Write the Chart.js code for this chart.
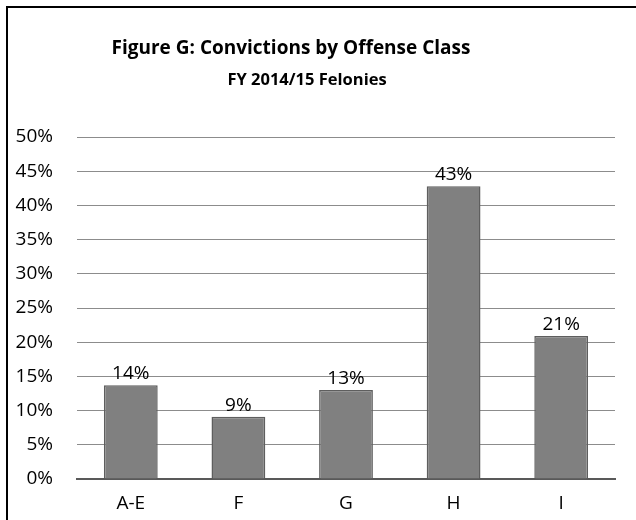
<!DOCTYPE html>
<html>
<head>
<meta charset="utf-8">
<script src="https://cdn.jsdelivr.net/npm/chart.js@4/dist/chart.umd.min.js"></script>
<style>
  html, body { margin: 0; padding: 0; background: #fff; }
  #wrap { position: relative; width: 636px; height: 520px; overflow: hidden; }
  #frame { position: absolute; left: 6px; top: 6px; right: -10px; bottom: -10px;
           border-top: 2px solid #000; border-left: 2px solid #000; }
  canvas { position: absolute; left: 0; top: 0; }
</style>
</head>
<body>
<div id="wrap">
  <div id="frame"></div>
  <canvas id="chart" width="636" height="520"></canvas>
</div>
<script>
var categories = ["A-E", "F", "G", "H", "I"];
var shares = [13.7, 9.1, 13.0, 42.8, 20.9];
var shareLabels = ["14%", "9%", "13%", "43%", "21%"];
var yTicks = [0, 5, 10, 15, 20, 25, 30, 35, 40, 45, 50];
var titleText = "Figure G: Convictions by Offense Class";
var subtitleText = "FY 2014/15 Felonies";

var fontFamily = "'Open Sans', Lato, sans-serif";

// value labels above each bar
var barLabels = {
    id: 'barLabels',
    afterDatasetsDraw: function (chart) {
        var ctx = chart.ctx;
        var meta = chart.getDatasetMeta(0);
        ctx.save();
        ctx.font = "19px " + fontFamily;
        ctx.fillStyle = "#000";
        ctx.textAlign = "center";
        ctx.textBaseline = "bottom";
        meta.data.forEach(function (bar, i) {
            ctx.fillText(shareLabels[i], bar.x, bar.y - 2);
        });
        ctx.restore();
    }
};

// title block, a little left of the plot centre like the original
var titleBlock = {
    id: 'titleBlock',
    afterDraw: function (chart) {
        var ctx = chart.ctx;
        ctx.save();
        ctx.fillStyle = "#000";
        ctx.textAlign = "center";
        ctx.textBaseline = "middle";
        ctx.font = "bold 19px " + fontFamily;
        ctx.fillText(titleText, 291, 49);
        ctx.font = "bold 16.5px " + fontFamily;
        ctx.fillText(subtitleText, 307, 80);
        ctx.restore();
    }
};

var ctx = document.getElementById('chart').getContext('2d');
new Chart(ctx, {
    type: 'bar',
    data: {
        labels: categories,
        datasets: [{
            data: shares,
            backgroundColor: "#808080",
            borderColor: "#5e5e5e",
            borderWidth: 1.5,
            barPercentage: 0.5,
            categoryPercentage: 1.0
        }]
    },
    options: {
        responsive: false,
        animation: false,
        layout: { padding: { left: 0, right: 21, top: 137, bottom: 0 } },
        plugins: {
            legend: { display: false },
            tooltip: { enabled: false },
            title: { display: false }
        },
        scales: {
            x: {
                afterFit: function (axis) { axis.height = 41; },
                grid: { display: false, drawTicks: false },
                border: { color: "#595959", width: 2 },
                ticks: { color: "#000", padding: 13, font: { family: fontFamily, size: 19 } }
            },
            y: {
                min: 0,
                max: 50,
                afterBuildTicks: function (axis) {
                    axis.ticks = yTicks.map(function (v) { return { value: v }; });
                },
                afterFit: function (axis) { axis.width = 77; },
                grid: { color: "#8c8c8c", lineWidth: 1, drawTicks: false },
                border: { display: false },
                ticks: {
                    color: "#000",
                    padding: 24,
                    font: { family: fontFamily, size: 19 },
                    callback: function (v) { return v + "%"; }
                }
            }
        }
    },
    plugins: [barLabels, titleBlock]
});
</script>
</body>
</html>
